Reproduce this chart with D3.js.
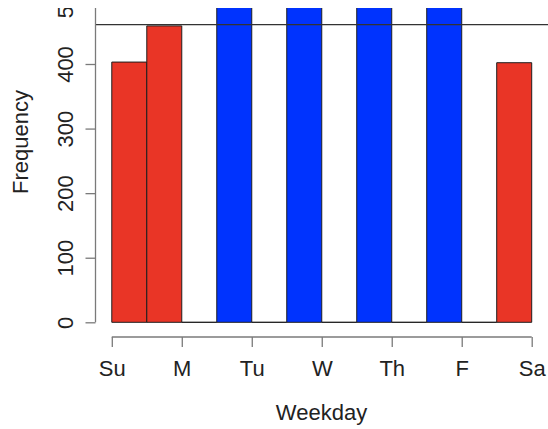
<!DOCTYPE html>
<html>
<head>
<meta charset="utf-8">
<script src="https://cdn.jsdelivr.net/npm/d3@7"></script>
<style>
  body { margin: 0; background: #fff; }
  svg { display: block; font-family: "Liberation Sans", Arial, sans-serif; }
</style>
</head>
<body>
<svg id="chart" width="548" height="429"></svg>
<script>
// histogram bins of weekday number (0 = Su ... 6 = Sa), break width 0.5
var binStart = [0, 0.5, 1, 1.5, 2, 2.5, 3, 3.5, 4, 4.5, 5, 5.5];
var binCount = [403, 459, 0, 700, 0, 705, 0, 698, 0, 690, 0, 402];
var binColor = ["red", "red", "red", "blue", "blue", "blue", "blue", "blue", "blue", "blue", "blue", "red"];
var dayTicks = [0, 1, 2, 3, 4, 5, 6];
var dayLabels = ["Su", "M", "Tu", "W", "Th", "F", "Sa"];
var freqTicks = [0, 100, 200, 300, 400, 500];
var refLine = 461;

var svg = d3.select("#chart");
var fill = { red: "#e93526", blue: "#0033fe" };

// plot region is larger than the picture; top is cut off
var x = d3.scaleLinear().domain([-0.24, 6.24]).range([95, 548.5]);
var y = d3.scaleLinear().domain([0, 400]).range([322.3, 64]);

svg.append("defs").append("clipPath").attr("id", "clip")
  .append("rect").attr("x", 0).attr("y", 8).attr("width", 548).attr("height", 421);

var g = svg.append("g").attr("clip-path", "url(#clip)");

// R draws empty bins as flat boxes, i.e. a line on the baseline
g.selectAll(".bar")
  .data(binStart)
  .enter()
  .append("path")
    .attr("class", "bar")
    .attr("d", function(d, i) {
      var x0 = x(d), x1 = x(d + 0.5), y0 = y(0), y1 = y(binCount[i]);
      return "M" + x0 + "," + y0 + "V" + y1 + "H" + x1 + "V" + y0 + "Z";
    })
    .attr("fill", function(d, i) { return fill[binColor[i]]; })
    .attr("stroke", "#1e1e1e")
    .attr("stroke-width", 1);

// horizontal reference line across the plot region
g.append("line")
  .attr("x1", x.range()[0]).attr("x2", x.range()[1])
  .attr("y1", y(refLine)).attr("y2", y(refLine))
  .attr("stroke", "#333").attr("stroke-width", 1.2);

// X axis
var xAxis = g.append("g")
  .attr("transform", "translate(0, 337)")
  .call(d3.axisBottom(x).tickValues(dayTicks)
    .tickFormat(function(d, i) { return dayLabels[i]; })
    .tickSize(10).tickSizeOuter(0).tickPadding(13));
xAxis.select(".domain").attr("d", "M" + x(0) + ",0H" + x(6));

// Y axis
var yAxis = g.append("g")
  .attr("transform", "translate(95.5, 0)")
  .call(d3.axisLeft(y).tickValues(freqTicks).tickSize(10).tickSizeOuter(0));
yAxis.select(".domain").attr("d", "M0," + y(0) + "V" + y(600));
yAxis.selectAll(".tick text")
  .attr("x", null).attr("dy", null)
  .attr("text-anchor", "middle")
  .attr("transform", "translate(-23, 0) rotate(-90)");

svg.selectAll(".domain, .tick line").attr("stroke", "#7a7a7a").attr("stroke-width", 1.3);
svg.selectAll(".tick text").attr("font-size", 22).attr("fill", "#222")
  .attr("font-family", "Liberation Sans, Arial, sans-serif");

// titles
svg.append("text")
  .attr("x", 321.5).attr("y", 420)
  .attr("text-anchor", "middle").attr("font-size", 22).attr("fill", "#222")
  .text("Weekday");

svg.append("text")
  .attr("transform", "translate(28, 142) rotate(-90)")
  .attr("text-anchor", "middle").attr("font-size", 22).attr("fill", "#222")
  .text("Frequency");
</script>
</body>
</html>
